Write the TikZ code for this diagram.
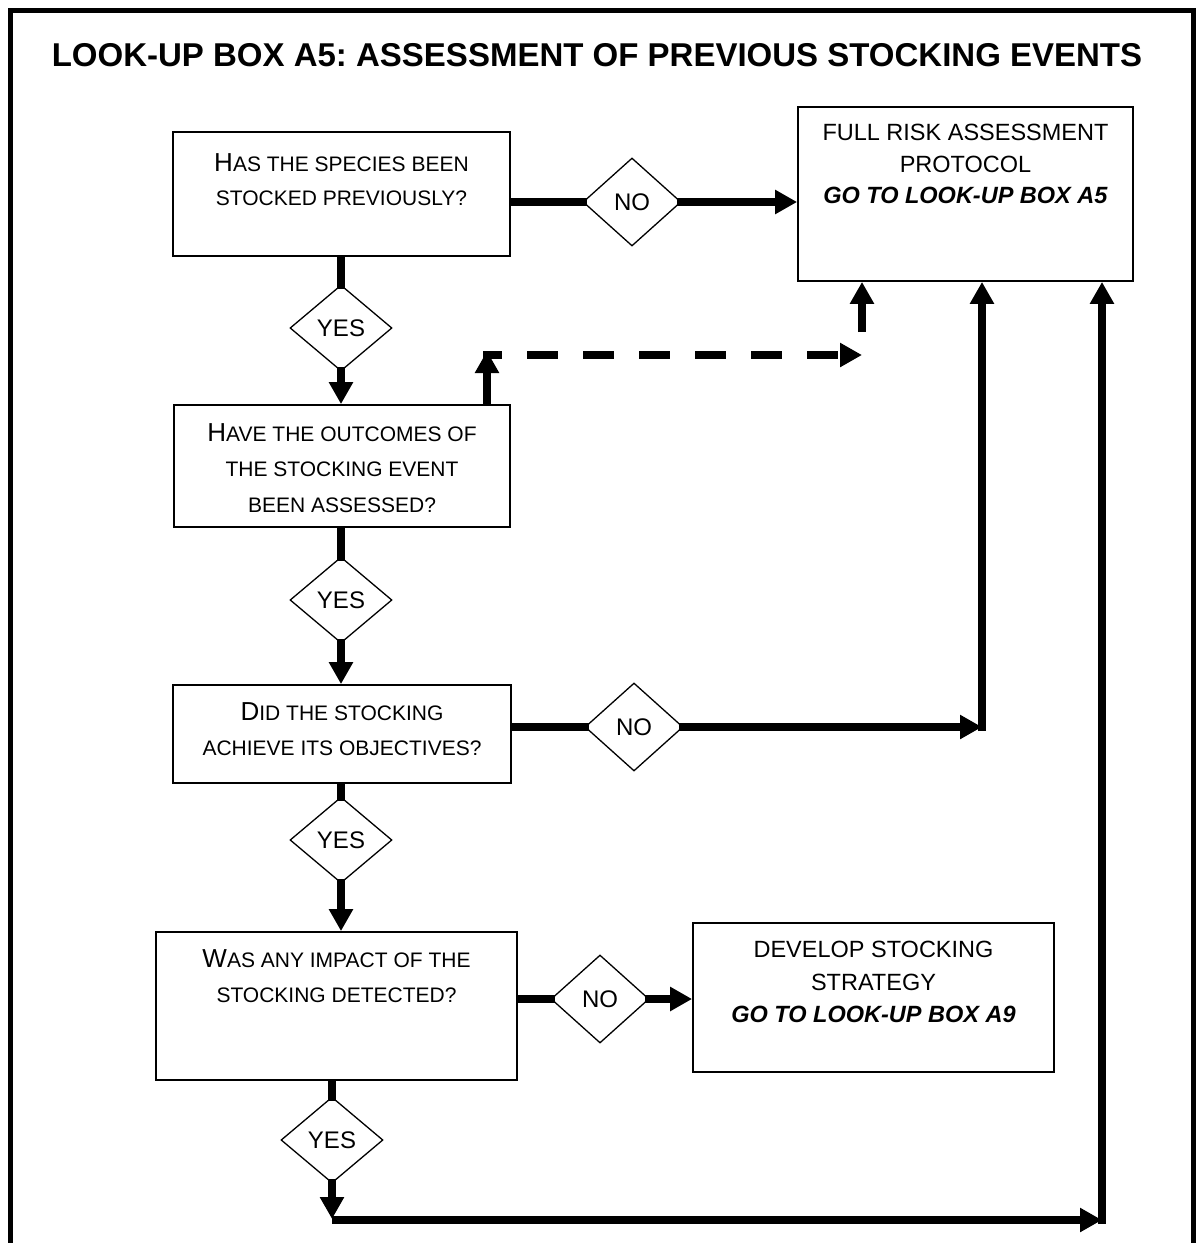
\documentclass[tikz,border=0pt]{standalone}
\usepackage{fontspec}
\setmainfont{Liberation Sans}
\usetikzlibrary{shapes.geometric,arrows.meta}
% large initial letter for the hand-made small capitals
\newcommand\capl[1]{{\fontsize{26}{26}\selectfont #1}}
\frenchspacing
\begin{document}
\begin{tikzpicture}[x=1pt,y=-1pt,
  qbox/.style={draw,rectangle,line width=1.8pt,inner sep=0pt},
  qtext/.style={align=center,inner sep=0pt,anchor=north},
  yesdia/.style={diamond,draw,line width=1.3pt,inner sep=0pt,
    minimum width=102pt,minimum height=86pt,font=\fontsize{24}{24}\selectfont},
  nodia/.style={diamond,draw,line width=1.3pt,inner sep=0pt,
    minimum width=98pt,minimum height=88pt,font=\fontsize{24}{24}\selectfont},
  conn/.style={line width=8pt},
  arr/.style={conn,-{Triangle[length=22pt,width=23pt]}},
  intodia/.style={shorten >=-5pt},
  fromdia/.style={shorten <=-5pt},
  dasharr/.style={arr,dash pattern=on 31pt off 25pt,dash phase=12pt}]

\useasboundingbox (0,0) rectangle (1195,1243);

% outer frame, open at the bottom
\draw[line width=5pt] (10,1243) -- (10,10) -- (1193,10) -- (1193,1243);

% title
\node[font=\bfseries\fontsize{33}{33}\selectfont,inner sep=0pt] (title) at (597,55)
  {LOOK-UP BOX A5: ASSESSMENT OF PREVIOUS STOCKING EVENTS};

% question and outcome boxes
\node[qbox,minimum width=337pt,minimum height=124pt] (b1) at (341.5,194) {};
\node[qbox,minimum width=335pt,minimum height=174pt] (b2) at (965.5,194) {};
\node[qbox,minimum width=336pt,minimum height=122pt] (b3) at (342,466) {};
\node[qbox,minimum width=338pt,minimum height=98pt] (b4) at (342,734) {};
\node[qbox,minimum width=361pt,minimum height=148pt] (b5) at (336.5,1006) {};
\node[qbox,minimum width=361pt,minimum height=149pt] (b6) at (873.5,997.5) {};

% box texts
\node[qtext,font=\fontsize{21}{34}\selectfont] (t1) at (341.5,153)
  {\capl{H}AS THE SPECIES BEEN\\STOCKED PREVIOUSLY?};
\node[qtext,font=\fontsize{23.5}{31.5}\selectfont] (t2) at (965.5,124)
  {FULL RISK ASSESSMENT\\PROTOCOL\\\textbf{\textit{GO TO LOOK-UP BOX A5}}};
\node[qtext,font=\fontsize{21}{35.5}\selectfont] (t3) at (342,423)
  {\capl{H}AVE THE OUTCOMES OF\\THE STOCKING EVENT\\BEEN ASSESSED?};
\node[qtext,font=\fontsize{21}{35}\selectfont] (t4) at (342,702)
  {\capl{D}ID THE STOCKING\\ACHIEVE ITS OBJECTIVES?};
\node[qtext,font=\fontsize{21}{35}\selectfont] (t5) at (336.5,949)
  {\capl{W}AS ANY IMPACT OF THE\\STOCKING DETECTED?};
\node[qtext,font=\fontsize{23.5}{32.5}\selectfont] (t6) at (873.5,941)
  {DEVELOP STOCKING\\STRATEGY\\\textbf{\textit{GO TO LOOK-UP BOX A9}}};

% decision diamonds
\node[nodia] (n1) at (632,202) {NO};
\node[yesdia] (y1) at (341,328) {YES};
\node[yesdia] (y2) at (341,600) {YES};
\node[nodia] (n2) at (634,727) {NO};
\node[yesdia] (y3) at (341,840) {YES};
\node[nodia] (n3) at (600,999) {NO};
\node[yesdia] (y4) at (332,1140) {YES};

% free ends of the routed connectors
\coordinate (dA) at (487,351);
\coordinate (dS) at (483,355);
\coordinate (dB) at (862,355);
\coordinate (dC) at (862,332);
\coordinate (eA) at (982,727);
\coordinate (eB) at (982,731);
\coordinate (fA0) at (332,1219);
\coordinate (fA) at (332,1220);
\coordinate (fB) at (1102,1220);
\coordinate (fC) at (1102,1224);

% first question
\draw[conn,intodia] (b1.east |- n1.west) -- (n1.west);
\draw[arr,fromdia] (n1.east) -- (n1.east -| b2.west);
\draw[conn,intodia] (b1.south -| y1.north) -- (y1.north);
\draw[arr,fromdia] (y1.south) -- (y1.south |- b3.north);

% second question, dashed route to the full assessment
\draw[arr] (dA |- b3.north) -- (dA);
\draw[dasharr] (dS) -- (dB);
\draw[arr] (dC) -- (dC |- b2.south);
\draw[conn,intodia] (b3.south -| y2.north) -- (y2.north);
\draw[arr,fromdia] (y2.south) -- (y2.south |- b4.north);

% third question
\draw[conn,intodia] (b4.east |- n2.west) -- (n2.west);
\draw[arr,fromdia] (n2.east) -- (eA);
\draw[arr] (eB) -- (eB |- b2.south);
\draw[conn,intodia] (b4.south -| y3.north) -- (y3.north);
\draw[arr,fromdia] (y3.south) -- (y3.south |- b5.north);

% fourth question
\draw[conn,intodia] (b5.east |- n3.west) -- (n3.west);
\draw[arr,fromdia] (n3.east) -- (n3.east -| b6.west);
\draw[conn,intodia] (b5.south -| y4.north) -- (y4.north);
\draw[arr,fromdia] (y4.south) -- (fA0);
\draw[arr] (fA) -- (fB);
\draw[arr] (fC) -- (fC |- b2.south);
\end{tikzpicture}
\end{document}
